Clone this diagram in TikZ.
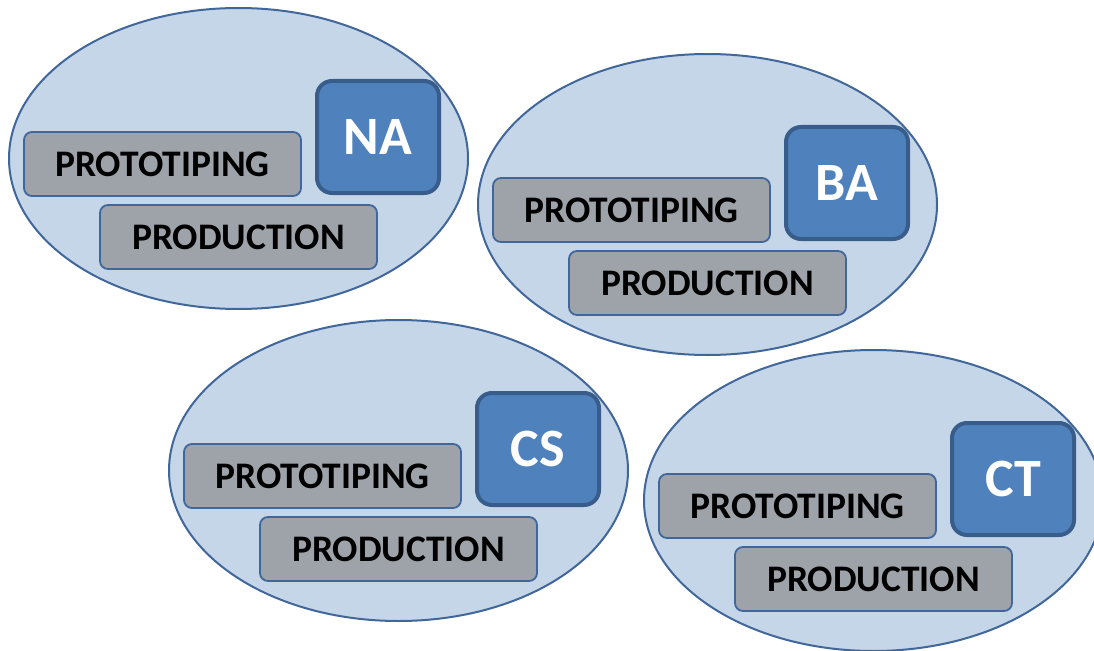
\documentclass[tikz,border=0pt]{standalone}
\usepackage{fontspec}
\setmainfont{Carlito}
\usetikzlibrary{shapes.geometric}
\definecolor{ellfill}{HTML}{C5D6E9}
\definecolor{ellline}{HTML}{41679A}
\definecolor{grayfill}{HTML}{9EA3AA}
\definecolor{grayline}{HTML}{41679A}
\definecolor{bluefill}{HTML}{4F81BD}
\definecolor{blueline}{HTML}{385D8A}
\tikzset{
  region/.style={ellipse, draw=ellline, fill=ellfill, line width=2pt,
    minimum width=459pt, minimum height=301pt, inner sep=0pt},
  phasebox/.style={rectangle, rounded corners=8pt, draw=grayline, fill=grayfill,
    line width=1.8pt, minimum width=277pt, minimum height=64pt, inner sep=0pt,
    font=\fontsize{37.5}{40}\selectfont\bfseries, text=black},
  sitebox/.style={rectangle, rounded corners=15pt, draw=blueline, fill=bluefill,
    line width=4pt, minimum width=122pt, minimum height=112pt, inner sep=0pt,
    font=\fontsize{54}{56}\selectfont\bfseries, text=white},
}
\newcommand\drawgroup[4]{%
  \begin{scope}[shift={(#2,#3)}]
    \node[region] (#1E) at (238.5,158.5) {};
    \node[phasebox] (#1P) at (162.5,164) {\raisebox{-3pt}{PROTOTIPING}};
    \node[phasebox] (#1R) at (238.5,237) {\raisebox{-3pt}{PRODUCTION}};
    \node[sitebox] (#1L) at (378,137) {\raisebox{-4pt}{#4}};
  \end{scope}}
\begin{document}
\begin{tikzpicture}[x=1pt,y=-1pt]
\useasboundingbox (0,0) rectangle (1094,650);
\clip (0,0) rectangle (1094,650);
\fill[white] (0,0) rectangle (1094,650);
\drawgroup{na}{0}{0}{NA}
\drawgroup{ba}{469}{46}{BA}
\drawgroup{cs}{160}{312}{CS}
\drawgroup{ct}{635}{342}{CT}
\end{tikzpicture}
\end{document}
